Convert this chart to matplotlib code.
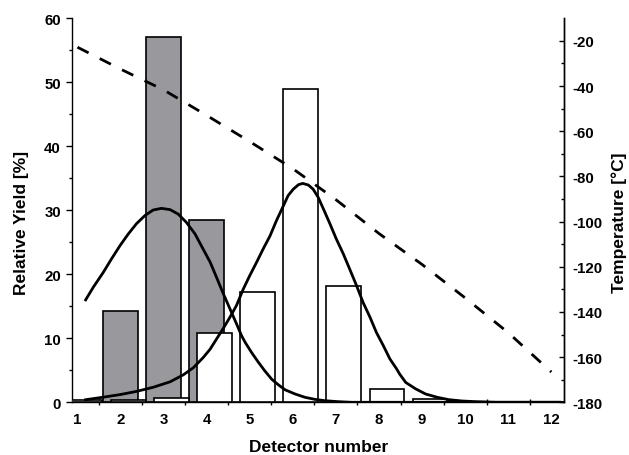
import matplotlib
matplotlib.use('Agg')
import matplotlib.pyplot as plt
import numpy as np

plt.rcParams['font.family'] = ['Liberation Sans', 'DejaVu Sans']
plt.rcParams['font.weight'] = 'bold'
plt.rcParams['axes.unicode_minus'] = False

# Datos
detectors = [1, 2, 3, 4, 5, 6, 7, 8, 9, 10, 11, 12]
yield_gray = [0.0, 14.2, 57.1, 28.5, 0.0, 0.0, 0.0, 0.0, 0.0, 0.0, 0.0, 0.0]
yield_white = [0.3, 0.3, 0.7, 10.9, 17.3, 49.0, 18.2, 2.1, 0.5, 0.0, 0.0, 0.0]
temperature = [-22.8, -32.5, -41.7, -53.0, -64.6, -76.6, -90.3, -105.3, -119.0, -133.8, -149.2, -166.6]

# Curvas de ajuste
fit1_x = [1.19, 1.37, 1.60, 1.79, 1.99, 2.18, 2.37, 2.57, 2.76, 2.95, 3.15, 3.34,
          3.53, 3.73, 3.92, 4.08, 4.23, 4.39, 4.54, 4.69, 4.81, 4.89, 5.04, 5.20,
          5.35, 5.51, 5.66, 5.82, 6.05, 6.28, 6.51, 6.74, 7.05, 7.36, 12.2]
fit1_y = [16.0, 18.0, 20.3, 22.4, 24.5, 26.3, 27.9, 29.2, 30.05, 30.3, 30.1, 29.4,
          28.1, 26.3, 23.9, 21.9, 19.5, 16.9, 14.6, 12.3, 10.4, 9.4, 7.8, 6.25,
          4.9, 3.6, 2.75, 1.95, 1.3, 0.78, 0.46, 0.25, 0.1, 0.0, 0.0]
fit2_x = [1.19, 1.60, 1.99, 2.37, 2.76, 3.15, 3.46, 3.69, 3.92, 4.08, 4.23, 4.39,
          4.54, 4.69, 4.85, 5.00, 5.16, 5.31, 5.47, 5.62, 5.78, 5.89, 6.01, 6.13,
          6.23, 6.36, 6.47, 6.59, 6.71, 6.86, 7.01, 7.17, 7.32, 7.48, 7.63, 7.79,
          7.94, 8.10, 8.25, 8.41, 8.48, 8.62, 8.85, 9.08, 9.35, 9.62, 9.93, 10.24,
          10.70, 12.2]
fit2_y = [0.4, 0.8, 1.2, 1.7, 2.35, 3.2, 4.3, 5.4, 7.0, 8.3, 9.9, 11.6,
          13.3, 15.1, 17.7, 19.8, 21.9, 23.95, 26.0, 28.4, 30.7, 32.3, 33.3, 34.0,
          34.2, 33.95, 33.3, 32.0, 30.2, 27.9, 25.5, 23.2, 20.8, 18.2, 15.6, 13.3,
          10.9, 8.85, 6.8, 5.2, 4.4, 3.1, 2.1, 1.3, 0.78, 0.41, 0.2, 0.1,
          0.0, 0.0]

fig = plt.figure(figsize=(6.29, 4.56), dpi=100)
ax = fig.add_axes([0.1149, 0.1156, 0.7822, 0.8421])
ax2 = ax.twinx()

x = np.array(detectors)
ax.bar(x, yield_gray, width=0.8, color='#99989d', edgecolor='black', linewidth=1.2, zorder=2)
ax.bar(x + 0.18, yield_white, width=0.8, color='white', edgecolor='black', linewidth=1.2, zorder=3)
ax.plot(fit1_x, fit1_y, color='black', linewidth=2, zorder=4, solid_joinstyle='round')
ax.plot(fit2_x, fit2_y, color='black', linewidth=2, zorder=4, solid_joinstyle='round')

ax2.plot(detectors, temperature, color='black', linewidth=2, linestyle=(0, (4.5, 4.5)))

ax.set_xlim(0.88, 12.3)
ax.set_ylim(0, 60)
ax2.set_ylim(-180, -10)

ax.spines['top'].set_visible(False)
for s in ['top', 'left', 'bottom']:
    ax2.spines[s].set_visible(False)
for s in ax.spines.values():
    s.set_linewidth(1.0)
ax2.spines['right'].set_linewidth(1.0)

ax.set_xticks(detectors)
ax.set_xticks(np.arange(1.5, 12, 1.0), minor=True)
ax.tick_params(axis='x', which='major', length=0, pad=7.2, labelsize=10.8)
ax.tick_params(axis='x', which='minor', direction='inout', length=5, width=1.0)

ax.set_yticks(np.arange(0, 61, 10))
ax.set_yticks(np.arange(5, 60, 10), minor=True)
ax.tick_params(axis='y', which='major', direction='out', length=4, width=1.0, pad=4.2, labelsize=10.8)
ax.tick_params(axis='y', which='minor', direction='out', length=2.2, width=1.0)

ax2.set_yticks(np.arange(-180, -19, 20))
ax2.set_yticks(np.arange(-170, -10, 20), minor=True)
ax2.tick_params(axis='y', which='major', direction='in', length=3.6, width=1.0, pad=5.8, labelsize=10.8)
ax2.tick_params(axis='y', which='minor', direction='in', length=2.5, width=1.0)

for lbl in ax.get_xticklabels() + ax.get_yticklabels() + ax2.get_yticklabels():
    lbl.set_fontweight('bold')

ax.set_xlabel('Detector number', fontsize=12.5, fontweight='bold')
ax.set_ylabel('Relative Yield [%]', fontsize=12.5, fontweight='bold')
ax2.set_ylabel('Temperature [°C]', fontsize=12.5, fontweight='bold')

ax.xaxis.label.set_va('center')
ax.xaxis.set_label_coords(0.5, -0.1164)
ax.yaxis.label.set_va('center')
ax.yaxis.set_label_coords(-0.1028, 0.47)
ax2.yaxis.label.set_va('center')
ax2.yaxis.set_label_coords(1.111, 0.47)

fig.savefig('out.png', dpi=100)
